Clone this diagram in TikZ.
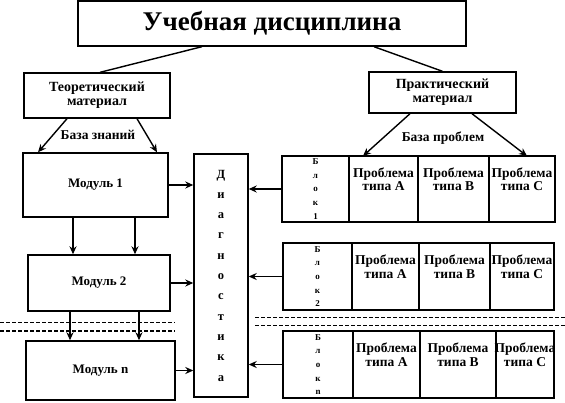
\documentclass[tikz,border=0pt]{standalone}
\usepackage{fontspec}
\setmainfont{Liberation Serif}
\usetikzlibrary{positioning,arrows.meta}

\begin{document}
\begin{tikzpicture}[
        x=1pt, y=-1pt,
        box/.style={rectangle, draw, line width=1.4pt, align=center, font=\fontsize{13}{14}\selectfont\bfseries},
        cell/.style={rectangle, draw, line width=1.4pt, inner sep=0pt, outer sep=0pt},
        ptext/.style={align=center, font=\fontsize{13.5}{13.5}\selectfont\bfseries},
        btext/.style={align=center, font=\fontsize{9}{13.6}\selectfont\bfseries},
        arrow/.style={-{Stealth[length=8pt,width=7pt]}, line width=1.4pt},
        divider/.style={dash pattern=on 4pt off 2pt, line width=1.2pt}
    ]

        \useasboundingbox (0,0) rectangle (565,402);

        % top part
        \node[box, minimum width=388pt, minimum height=45pt, font=\fontsize{27}{30}\selectfont\bfseries] (disc) at (272,23.5) {Учебная дисциплина};
        \node[box, minimum width=146pt, minimum height=45pt, font=\fontsize{14}{14}\selectfont\bfseries] (theory) at (97,95.5) {Теоретический\\материал};
        \node[box, minimum width=147pt, minimum height=41pt, font=\fontsize{14}{14}\selectfont\bfseries] (pract) at (442.5,92.5) {Практический\\материал};

        \node[box, minimum width=145pt, minimum height=64pt] (mod1) at (95.5,185) {Модуль 1};
        \node[box, minimum width=142pt, minimum height=56pt] (mod2) at (99,283) {Модуль 2};
        \node[box, minimum width=149pt, minimum height=59pt] (modn) at (100.5,370.5) {Модуль n};

        \node[box, minimum width=54pt, minimum height=243pt, font=\fontsize{12.5}{20.3}\selectfont\bfseries] (diag) at (221,275.5) {Д\\и\\а\\г\\н\\о\\с\\т\\и\\к\\а};

        % blocks of problems
        \node[cell, btext, minimum width=67pt, minimum height=66pt] (blk1) at (315.5,189) {Б\\л\\о\\к\\1};
        \node[cell, minimum width=69pt, minimum height=66pt, right=0pt of blk1] (p1a) {};
        \node[cell, minimum width=71pt, minimum height=66pt, right=0pt of p1a] (p1b) {};
        \node[cell, minimum width=66pt, minimum height=66pt, right=0pt of p1b] (p1c) {};

        \node[cell, btext, minimum width=69pt, minimum height=67pt] (blk2) at (317.5,276.5) {Б\\л\\о\\к\\2};
        \node[cell, minimum width=67pt, minimum height=67pt, right=0pt of blk2] (p2a) {};
        \node[cell, minimum width=71pt, minimum height=67pt, right=0pt of p2a] (p2b) {};
        \node[cell, minimum width=64pt, minimum height=67pt, right=0pt of p2b] (p2c) {};

        \node[cell, btext, minimum width=70pt, minimum height=67pt] (blkn) at (318,364.5) {Б\\л\\о\\к\\n};
        \node[cell, minimum width=67pt, minimum height=67pt, right=0pt of blkn] (pna) {};
        \node[cell, minimum width=76pt, minimum height=67pt, right=0pt of pna] (pnb) {};
        \node[cell, minimum width=58pt, minimum height=67pt, right=0pt of pnb] (pnc) {};

        \node[ptext] (t1a) at ([yshift=10pt]p1a.center) {Проблема\\типа A};
        \node[ptext] (t1b) at ([yshift=10pt]p1b.center) {Проблема\\типа B};
        \node[ptext] (t1c) at ([yshift=10pt]p1c.center) {Проблема\\типа C};
        \node[ptext] (t2a) at ([yshift=10pt]p2a.center) {Проблема\\типа A};
        \node[ptext] (t2b) at ([yshift=10pt]p2b.center) {Проблема\\типа B};
        \node[ptext] (t2c) at ([yshift=10pt]p2c.center) {Проблема\\типа C};
        \node[ptext] (tna) at ([yshift=10pt]pna.center) {Проблема\\типа A};
        \node[ptext] (tnb) at ([yshift=10pt]pnb.center) {Проблема\\типа B};
        \node[ptext] (tnc) at ([yshift=10pt]pnc.center) {Проблема\\типа C};

        \node[ptext] (kb) at (98,135) {База знаний};
        \node[ptext] (pb) at (443,138) {База проблем};

        % connectors
        \draw[line width=1.4pt] ([xshift=-70pt]disc.south) -- ([xshift=3pt]theory.north);
        \draw[line width=1.4pt] ([xshift=102pt]disc.south) -- (pract.north);

        \draw[arrow] ([xshift=-30pt]theory.south) -- (38,0 |- mod1.north);
        \draw[arrow] ([xshift=40pt]theory.south) -- (157,0 |- mod1.north);
        \draw[arrow] ([xshift=-32.5pt]pract.south) -- (363,0 |- blk1.north);
        \draw[arrow] ([xshift=29.5pt]pract.south) -- (527,0 |- blk1.north);

        \draw[arrow] (73,0 |- mod1.south) -- (73,0 |- mod2.north);
        \draw[arrow] (135,0 |- mod1.south) -- (135,0 |- mod2.north);
        \draw[arrow] (70,0 |- mod2.south) -- (70,0 |- modn.north);
        \draw[arrow] (139,0 |- mod2.south) -- (139,0 |- modn.north);

        \draw[arrow] (mod1.east) -- (mod1.east -| diag.west);
        \draw[arrow] (mod2.east) -- (mod2.east -| diag.west);
        \draw[arrow] (modn.east) -- (modn.east -| diag.west);
        \draw[arrow] (blk1.west) -- (blk1.west -| diag.east);
        \draw[arrow] (blk2.west) -- (blk2.west -| diag.east);
        \draw[arrow] (blkn.west) -- (blkn.west -| diag.east);

        % dashed separators
        \draw[divider] (0,322.3) -- (175,322.3);
        \draw[divider] (0,331) -- (175,331);
        \draw[divider] (255,317.5) -- (565,317.5);
        \draw[divider] (255,325.5) -- (565,325.5);
    \end{tikzpicture}
\end{document}
